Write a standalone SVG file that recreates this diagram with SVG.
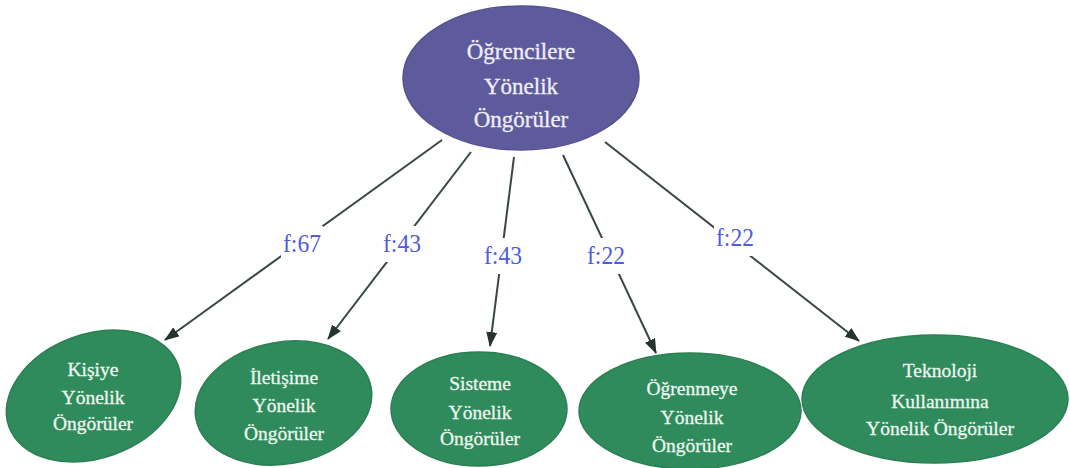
<svg xmlns="http://www.w3.org/2000/svg" width="1070" height="468" viewBox="0 0 1070 468">
<defs>
<marker id="ah" viewBox="0 0 15 11" refX="14" refY="5.5" markerWidth="15" markerHeight="11" markerUnits="userSpaceOnUse" orient="auto">
<path d="M0,0 L15,5.5 L0,11 Z" fill="#263333"/>
</marker>
<style>
.top{fill:#5e5b9d;stroke:#55528f;stroke-width:1.5}
.leaf{fill:#2f8b5b;stroke:#2b7f53;stroke-width:1.5}
.tt{font-family:'Liberation Serif','Times New Roman','DejaVu Serif',serif;font-size:23px;fill:#efeef8;stroke:#efeef8;stroke-width:0.3;text-anchor:middle}
.lt{font-family:'Liberation Serif','Times New Roman','DejaVu Serif',serif;font-size:19.5px;fill:#eef6f0;stroke:#eef6f0;stroke-width:0.3;text-anchor:middle}
.edge{stroke:#3a4646;stroke-width:2;fill:none;marker-end:url(#ah)}
.lbl{font-family:'Liberation Serif','Times New Roman','DejaVu Serif',serif;font-size:26px;fill:#4f5bdc;text-anchor:middle}
.bg{fill:#ffffff}
</style>
</defs>
<rect width="1070" height="468" fill="#ffffff"/>
<g id="connectors">
<line class="edge" x1="442" y1="140" x2="165" y2="340"/>
<line class="edge" x1="471" y1="152" x2="328" y2="339"/>
<line class="edge" x1="514" y1="157" x2="490" y2="346"/>
<line class="edge" x1="563" y1="155" x2="656" y2="353"/>
<line class="edge" x1="605" y1="142" x2="859" y2="341"/>
<rect class="bg" x="281" y="226" width="42" height="36"/>
<rect class="bg" x="381" y="226" width="42" height="36"/>
<rect class="bg" x="482" y="238" width="42" height="36"/>
<rect class="bg" x="585" y="238" width="42" height="36"/>
<rect class="bg" x="714" y="220" width="42" height="36"/>
<text class="lbl" x="302" y="252" textLength="38" lengthAdjust="spacingAndGlyphs">f:67</text>
<text class="lbl" x="402" y="252" textLength="38" lengthAdjust="spacingAndGlyphs">f:43</text>
<text class="lbl" x="503" y="264" textLength="38" lengthAdjust="spacingAndGlyphs">f:43</text>
<text class="lbl" x="606" y="264" textLength="38" lengthAdjust="spacingAndGlyphs">f:22</text>
<text class="lbl" x="735" y="246" textLength="38" lengthAdjust="spacingAndGlyphs">f:22</text>
</g>
<g id="root">
<ellipse class="top" cx="521" cy="78" rx="118" ry="72"/>
<text class="tt" x="521" y="59">Öğrencilere</text>
<text class="tt" x="521" y="94">Yönelik</text>
<text class="tt" x="521" y="127">Öngörüler</text>
</g>
<g id="kisiye">
<ellipse class="leaf" cx="93.5" cy="396" rx="90" ry="62" transform="rotate(-20 93.5 396)"/>
<text class="lt" x="93" y="376">Kişiye</text>
<text class="lt" x="93" y="404">Yönelik</text>
<text class="lt" x="93" y="430">Öngörüler</text>
</g>
<g id="iletisime">
<ellipse class="leaf" cx="283.5" cy="403" rx="89" ry="61" transform="rotate(-10 283.5 403)"/>
<text class="lt" x="284" y="384">İletişime</text>
<text class="lt" x="284" y="412">Yönelik</text>
<text class="lt" x="284" y="440">Öngörüler</text>
</g>
<g id="sisteme">
<ellipse class="leaf" cx="479" cy="409" rx="88" ry="57"/>
<text class="lt" x="480" y="390">Sisteme</text>
<text class="lt" x="480" y="419">Yönelik</text>
<text class="lt" x="480" y="445">Öngörüler</text>
</g>
<g id="ogrenmeye">
<ellipse class="leaf" cx="690" cy="411" rx="111" ry="58"/>
<text class="lt" x="692" y="395">Öğrenmeye</text>
<text class="lt" x="692" y="424">Yönelik</text>
<text class="lt" x="692" y="452">Öngörüler</text>
</g>
<g id="teknoloji">
<ellipse class="leaf" cx="935" cy="399" rx="133" ry="64"/>
<text class="lt" x="940" y="377">Teknoloji</text>
<text class="lt" x="940" y="408">Kullanımına</text>
<text class="lt" x="940" y="435">Yönelik Öngörüler</text>
</g>
</svg>
